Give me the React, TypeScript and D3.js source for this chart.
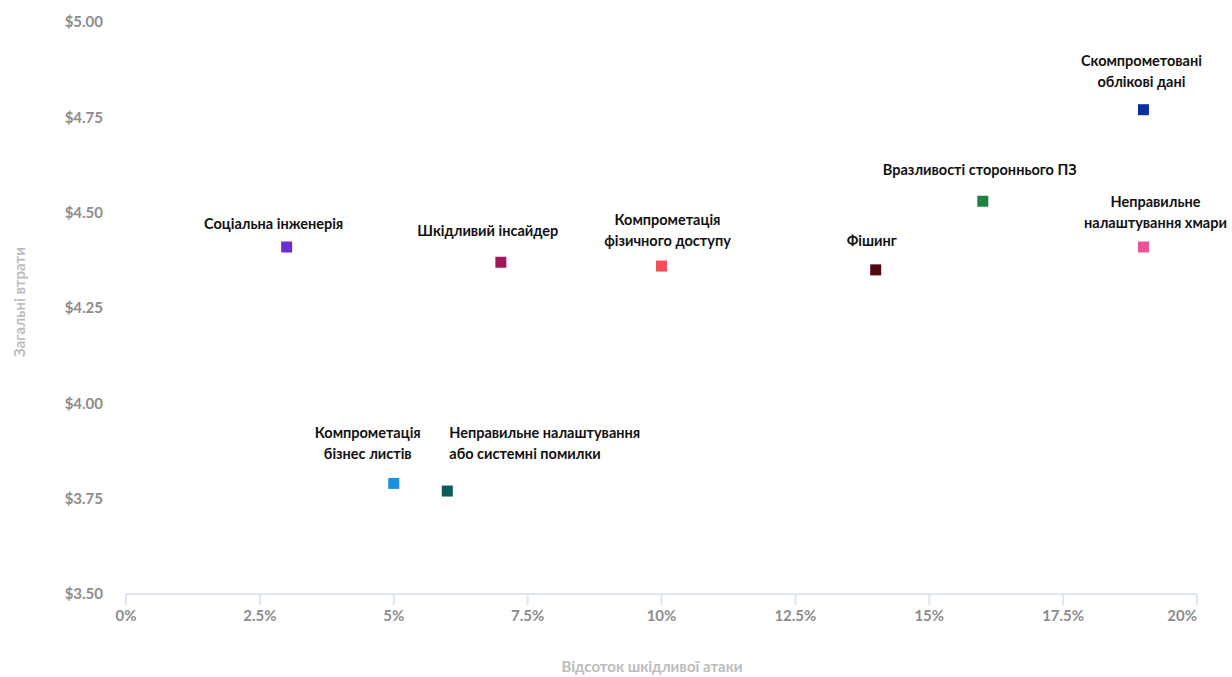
import React from "react";
import * as d3 from "d3";

// Share of breaches by initial attack vector (%) and average total cost ($M)
const vectors = [
  "Соціальна інженерія",
  "Компрометація бізнес листів",
  "Неправильне налаштування або системні помилки",
  "Шкідливий інсайдер",
  "Компрометація фізичного доступу",
  "Фішинг",
  "Вразливості стороннього ПЗ",
  "Скомпрометовані облікові дані",
  "Неправильне налаштування хмари",
];
const attackShare = [3, 5, 6, 7, 10, 14, 16, 19, 19];
const totalCost = [4.41, 3.79, 3.77, 4.37, 4.36, 4.35, 4.53, 4.77, 4.41];

const xTicks = [0, 2.5, 5, 7.5, 10, 12.5, 15, 17.5, 20];
const yTicks = [3.5, 3.75, 4.0, 4.25, 4.5, 4.75, 5.0];

// Display layout: point colours and label lines/placement
const colors = [
  "#6a2fd0",
  "#1a8fe6",
  "#0b5c58",
  "#a2175a",
  "#f44e5c",
  "#4e0a0e",
  "#1f8443",
  "#0b2fa0",
  "#ee5296",
];
const labelLines = [
  ["Соціальна інженерія"],
  ["Компрометація", "бізнес листів"],
  ["Неправильне налаштування", "або системні помилки"],
  ["Шкідливий інсайдер"],
  ["Компрометація", "фізичного доступу"],
  ["Фішинг"],
  ["Вразливості стороннього ПЗ"],
  ["Скомпрометовані", "облікові дані"],
  ["Неправильне", "налаштування хмари"],
];
// [dx, dy of last line centre, anchor]
const labelPlacement: [number, number, string][] = [
  [-13, -23, "middle"],
  [-26, -29, "middle"],
  [2, -37, "start"],
  [-13, -31, "middle"],
  [6, -25, "middle"],
  [-4, -29, "middle"],
  [-3, -31, "middle"],
  [-2, -28, "middle"],
  [12, -24, "middle"],
];

const W = 1232;
const H = 677;
const margin = { left: 126, right: 35, top: 22, bottom: 83 };

export default function App() {
  const x = d3
    .scaleLinear()
    .domain([0, 20])
    .range([margin.left, W - margin.right]);
  const y = d3
    .scaleLinear()
    .domain([3.5, 5])
    .range([H - margin.bottom, margin.top]);

  const axisY = y(3.5);
  const tickFont = "Lato, 'Open Sans', sans-serif";
  const labelFont = "Lato, 'Noto Sans', sans-serif";
  const lineH = 21;

  return (
    <svg
      width={W}
      height={H}
      style={{ position: "absolute", left: 0, top: 0, background: "#fff" }}
    >
      {/* y tick labels */}
      {yTicks.map((t) => (
        <text
          key={"y" + t}
          x={103}
          y={y(t)}
          dy="0.35em"
          textAnchor="end"
          fontFamily={tickFont}
          fontWeight={700}
          fontSize={15}
          fill="#8c8c8c"
        >
          {d3.format("$.2f")(t)}
        </text>
      ))}

      {/* x axis */}
      <line
        x1={x(0)}
        x2={x(20)}
        y1={axisY}
        y2={axisY}
        stroke="#dfe5f3"
        strokeWidth={2}
      />
      {xTicks.map((t, i) => (
        <g key={"x" + t}>
          <line
            x1={x(t)}
            x2={x(t)}
            y1={axisY}
            y2={axisY + 11}
            stroke="#dfe5f3"
            strokeWidth={2}
          />
          <text
            x={i === xTicks.length - 1 ? x(t) : x(t)}
            y={axisY + 22}
            dy="0.35em"
            textAnchor={i === xTicks.length - 1 ? "end" : "middle"}
            fontFamily={tickFont}
            fontWeight={700}
            fontSize={15}
            fill="#8c8c8c"
          >
            {t + "%"}
          </text>
        </g>
      ))}

      {/* axis titles */}
      <text
        x={652}
        y={667}
        dy="0.35em"
        textAnchor="middle"
        fontFamily={tickFont}
        fontWeight={700}
        fontSize={15}
        fill="#bcbcbc"
      >
        Відсоток шкідливої атаки
      </text>
      <text
        transform={`translate(20, 302) rotate(-90)`}
        dy="0.35em"
        textAnchor="middle"
        fontFamily={tickFont}
        fontWeight={700}
        fontSize={15}
        fill="#bcbcbc"
      >
        Загальні втрати
      </text>

      {/* points */}
      {vectors.map((v, i) => (
        <rect
          key={"p" + i}
          x={x(attackShare[i]) - 5.5}
          y={y(totalCost[i]) - 5.5}
          width={11}
          height={11}
          fill={colors[i]}
        >
          <title>{v}</title>
        </rect>
      ))}

      {/* labels */}
      {vectors.map((v, i) => {
        const [dx, dy, anchor] = labelPlacement[i];
        const lines = labelLines[i];
        const px = x(attackShare[i]) + dx;
        const lastY = y(totalCost[i]) + dy;
        return (
          <text
            key={"l" + i}
            textAnchor={anchor}
            fontFamily={labelFont}
            fontWeight={700}
            fontSize={14.5}
            fill="#111"
          >
            {lines.map((ln, j) => (
              <tspan
                key={j}
                x={px}
                y={lastY - (lines.length - 1 - j) * lineH}
                dy="0.35em"
              >
                {ln}
              </tspan>
            ))}
          </text>
        );
      })}
    </svg>
  );
}
